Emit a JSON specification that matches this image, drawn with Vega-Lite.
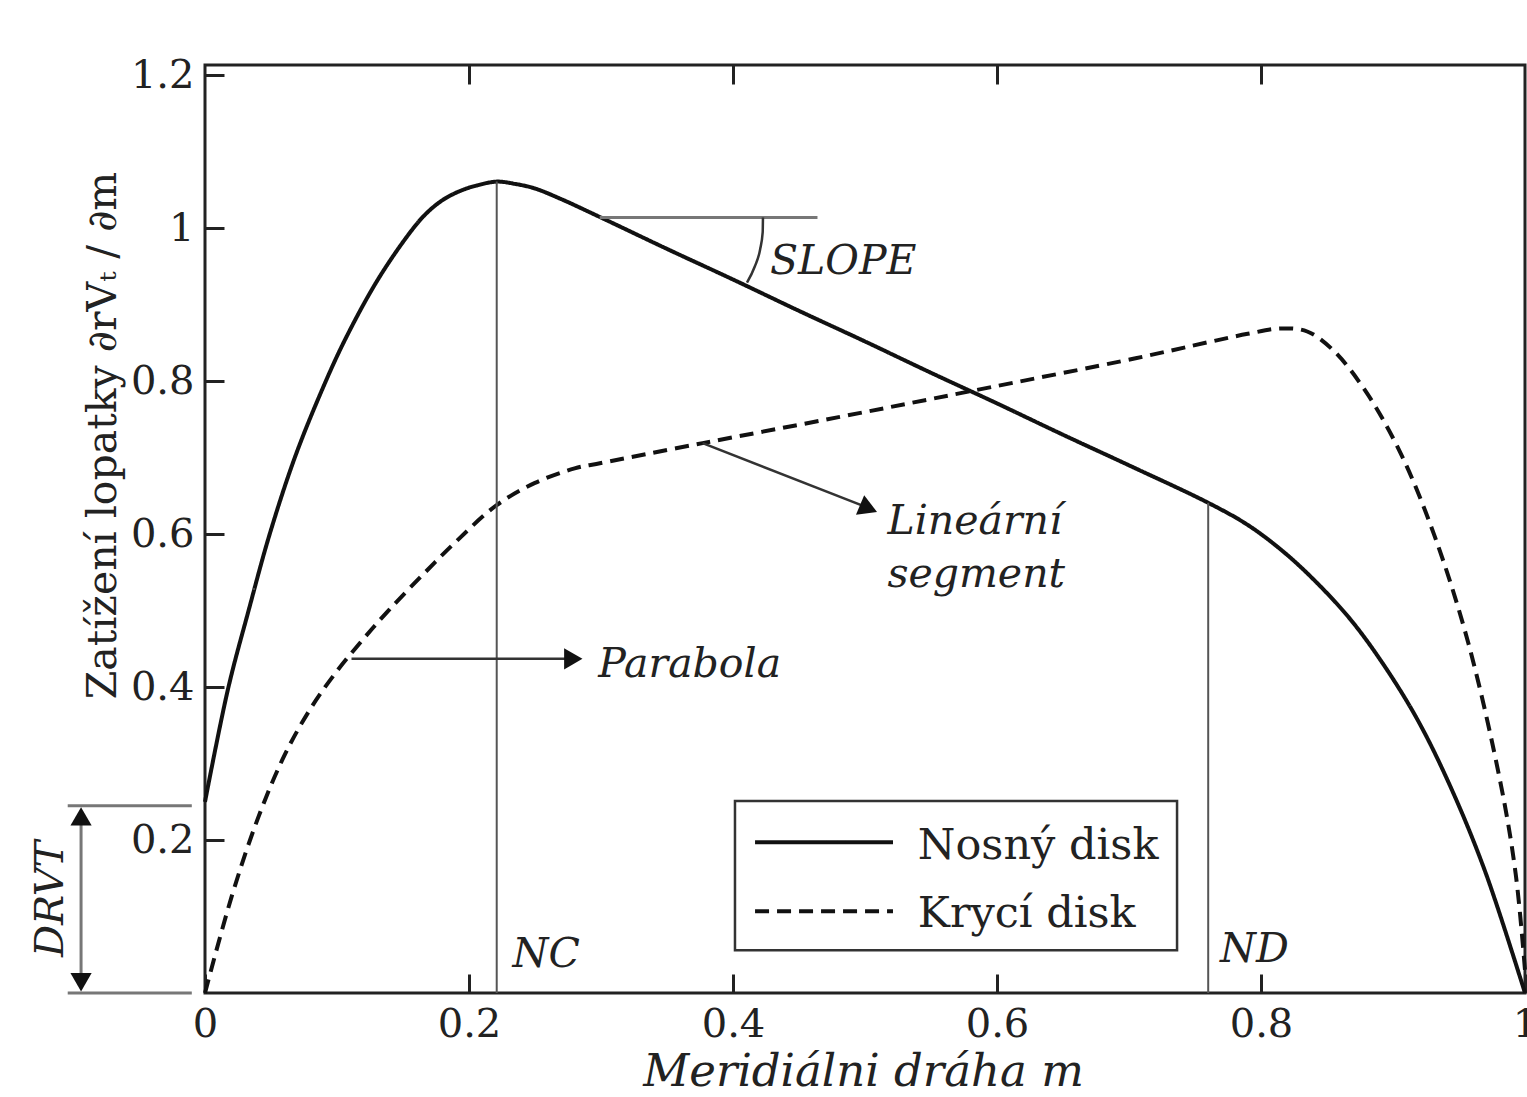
{
  "$schema": "https://vega.github.io/schema/vega-lite/v6.json",
  "width": 1320,
  "height": 928,
  "autosize": {"type": "none"},
  "padding": {"left": 205, "top": 65, "right": 2, "bottom": 104},
  "background": "white",
  "datasets": {
    "curves": [
      {"disk": "Nosný disk", "m": 0.0, "v": 0.25},
      {"disk": "Nosný disk", "m": 0.0175, "v": 0.398},
      {"disk": "Nosný disk", "m": 0.033, "v": 0.5},
      {"disk": "Nosný disk", "m": 0.049, "v": 0.6},
      {"disk": "Nosný disk", "m": 0.068, "v": 0.7},
      {"disk": "Nosný disk", "m": 0.088, "v": 0.786},
      {"disk": "Nosný disk", "m": 0.106, "v": 0.854},
      {"disk": "Nosný disk", "m": 0.131, "v": 0.933},
      {"disk": "Nosný disk", "m": 0.156, "v": 0.996},
      {"disk": "Nosný disk", "m": 0.168, "v": 1.02},
      {"disk": "Nosný disk", "m": 0.181, "v": 1.038},
      {"disk": "Nosný disk", "m": 0.195, "v": 1.05},
      {"disk": "Nosný disk", "m": 0.206, "v": 1.056},
      {"disk": "Nosný disk", "m": 0.221, "v": 1.061},
      {"disk": "Nosný disk", "m": 0.235, "v": 1.058},
      {"disk": "Nosný disk", "m": 0.25, "v": 1.052},
      {"disk": "Nosný disk", "m": 0.27, "v": 1.038},
      {"disk": "Nosný disk", "m": 0.3, "v": 1.014},
      {"disk": "Nosný disk", "m": 0.35, "v": 0.973},
      {"disk": "Nosný disk", "m": 0.4, "v": 0.933},
      {"disk": "Nosný disk", "m": 0.45, "v": 0.892},
      {"disk": "Nosný disk", "m": 0.5, "v": 0.852},
      {"disk": "Nosný disk", "m": 0.55, "v": 0.811},
      {"disk": "Nosný disk", "m": 0.6, "v": 0.771},
      {"disk": "Nosný disk", "m": 0.65, "v": 0.73},
      {"disk": "Nosný disk", "m": 0.7, "v": 0.69},
      {"disk": "Nosný disk", "m": 0.76, "v": 0.641},
      {"disk": "Nosný disk", "m": 0.79, "v": 0.612},
      {"disk": "Nosný disk", "m": 0.817, "v": 0.577},
      {"disk": "Nosný disk", "m": 0.842, "v": 0.537},
      {"disk": "Nosný disk", "m": 0.868, "v": 0.488},
      {"disk": "Nosný disk", "m": 0.893, "v": 0.429},
      {"disk": "Nosný disk", "m": 0.919, "v": 0.356},
      {"disk": "Nosný disk", "m": 0.944, "v": 0.268},
      {"disk": "Nosný disk", "m": 0.97, "v": 0.158},
      {"disk": "Nosný disk", "m": 1.0, "v": 0.0},
      {"disk": "Krycí disk", "m": 0.0, "v": 0.0},
      {"disk": "Krycí disk", "m": 0.02, "v": 0.125},
      {"disk": "Krycí disk", "m": 0.04, "v": 0.228},
      {"disk": "Krycí disk", "m": 0.06, "v": 0.31},
      {"disk": "Krycí disk", "m": 0.08, "v": 0.372},
      {"disk": "Krycí disk", "m": 0.1, "v": 0.421},
      {"disk": "Krycí disk", "m": 0.12, "v": 0.463},
      {"disk": "Krycí disk", "m": 0.14, "v": 0.502},
      {"disk": "Krycí disk", "m": 0.165, "v": 0.547},
      {"disk": "Krycí disk", "m": 0.19, "v": 0.59},
      {"disk": "Krycí disk", "m": 0.221, "v": 0.638},
      {"disk": "Krycí disk", "m": 0.25, "v": 0.667},
      {"disk": "Krycí disk", "m": 0.28, "v": 0.686},
      {"disk": "Krycí disk", "m": 0.3, "v": 0.693},
      {"disk": "Krycí disk", "m": 0.377, "v": 0.719},
      {"disk": "Krycí disk", "m": 0.48, "v": 0.753},
      {"disk": "Krycí disk", "m": 0.58, "v": 0.787},
      {"disk": "Krycí disk", "m": 0.705, "v": 0.83},
      {"disk": "Krycí disk", "m": 0.76, "v": 0.851},
      {"disk": "Krycí disk", "m": 0.79, "v": 0.862},
      {"disk": "Krycí disk", "m": 0.815, "v": 0.869},
      {"disk": "Krycí disk", "m": 0.835, "v": 0.865},
      {"disk": "Krycí disk", "m": 0.855, "v": 0.84},
      {"disk": "Krycí disk", "m": 0.88, "v": 0.785},
      {"disk": "Krycí disk", "m": 0.906, "v": 0.705},
      {"disk": "Krycí disk", "m": 0.931, "v": 0.6},
      {"disk": "Krycí disk", "m": 0.957, "v": 0.458},
      {"disk": "Krycí disk", "m": 0.982, "v": 0.27},
      {"disk": "Krycí disk", "m": 0.993, "v": 0.155},
      {"disk": "Krycí disk", "m": 1.0, "v": 0.03}
    ],
    "markers": [
      {"name": "NC", "m": 0.221, "v0": 0.0, "v1": 1.061},
      {"name": "ND", "m": 0.76, "v0": 0.0, "v1": 0.641}
    ],
    "shafts": [
      {"name": "Parabola", "m0": 0.111, "v0": 0.437, "m1": 0.28, "v1": 0.437},
      {"name": "Lineární segment", "m0": 0.377, "v0": 0.719, "m1": 0.503, "v1": 0.634}
    ],
    "refs": [
      {"name": "SLOPE", "m0": 0.299, "v0": 1.014, "m1": 0.464, "v1": 1.014},
      {"name": "DRVT top", "m0": -0.104, "v0": 0.245, "m1": -0.01, "v1": 0.245},
      {"name": "DRVT bottom", "m0": -0.104, "v0": 0.0, "m1": -0.01, "v1": 0.0},
      {"name": "DRVT span", "m0": -0.0939, "v0": 0.012, "m1": -0.0939, "v1": 0.233}
    ],
    "slopeArc": [
      {"m": 0.4227, "v": 1.014},
      {"m": 0.4225, "v": 0.995},
      {"m": 0.4205, "v": 0.972},
      {"m": 0.4165, "v": 0.95},
      {"m": 0.4106, "v": 0.929}
    ],
    "notes": [
      {"label": "SLOPE", "m": 0.428, "v": 0.94},
      {"label": "Lineární", "m": 0.517, "v": 0.6},
      {"label": "segment", "m": 0.517, "v": 0.531},
      {"label": "Parabola", "m": 0.298, "v": 0.413},
      {"label": "NC", "m": 0.233, "v": 0.034},
      {"label": "ND", "m": 0.769, "v": 0.04}
    ],
    "legendBox": [
      {"m0": 0.4015, "m1": 0.7364, "v0": 0.056, "v1": 0.251}
    ],
    "legendLines": [
      {"disk": "Nosný disk", "m": 0.4167, "v": 0.197},
      {"disk": "Nosný disk", "m": 0.5212, "v": 0.197},
      {"disk": "Krycí disk", "m": 0.4167, "v": 0.107},
      {"disk": "Krycí disk", "m": 0.5212, "v": 0.107}
    ],
    "legendLabels": [
      {"disk": "Nosný disk", "m": 0.54, "v": 0.175},
      {"disk": "Krycí disk", "m": 0.54, "v": 0.086}
    ]
  },
  "config": {
    "view": {"stroke": "#222", "strokeWidth": 3},
    "font": "DejaVu Serif",
    "axis": {
      "labelFont": "DejaVu Serif",
      "labelFontSize": 40,
      "labelColor": "#222",
      "tickColor": "#222",
      "tickWidth": 3,
      "grid": false,
      "domain": false,
      "labelFlush": false,
      "titleFont": "DejaVu Serif",
      "titleFontWeight": "normal",
      "titleColor": "#222"
    }
  },
  "resolve": {"axis": {"x": "independent", "y": "independent"}},
  "layer": [
    {
      "data": {"name": "curves"},
      "mark": {"type": "line", "interpolate": "catmull-rom", "color": "#111", "strokeWidth": 4},
      "encoding": {
        "x": {
          "field": "m", "type": "quantitative",
          "scale": {"domain": [0, 1], "nice": false, "zero": false},
          "axis": {
            "orient": "bottom",
            "values": [0, 0.2, 0.4, 0.6, 0.8, 1],
            "format": "~g",
            "tickSize": -19,
            "labelPadding": 30,
            "title": "Meridiálni dráha m",
            "titleFontStyle": "italic",
            "titleFontSize": 45,
            "titleX": 658,
            "titleY": 92,
            "titleAlign": "center",
            "titleBaseline": "alphabetic"
          }
        },
        "y": {
          "field": "v", "type": "quantitative",
          "scale": {"domain": [0, 1.2135], "nice": false, "zero": false},
          "axis": {
            "orient": "left",
            "values": [0.2, 0.4, 0.6, 0.8, 1, 1.2],
            "format": "~g",
            "tickSize": -19,
            "labelPadding": 30,
            "title": "Zatížení lopatky ∂rVₜ / ∂m",
            "titleFontSize": 41,
            "titleAngle": 270,
            "titleX": -90,
            "titleY": 370,
            "titleAlign": "center",
            "titleBaseline": "alphabetic"
          }
        },
        "strokeDash": {
          "field": "disk", "type": "nominal",
          "scale": {"domain": ["Nosný disk", "Krycí disk"], "range": [[1, 0], [14, 8]]},
          "legend": null
        }
      }
    },
    {
      "data": {"name": "markers"},
      "mark": {"type": "rule", "color": "#555", "strokeWidth": 2},
      "encoding": {
        "x": {
          "field": "m", "type": "quantitative",
          "axis": {
            "orient": "top",
            "values": [0.2, 0.4, 0.6, 0.8],
            "labels": false,
            "tickSize": -19,
            "title": null
          }
        },
        "y": {"field": "v0", "type": "quantitative", "axis": null},
        "y2": {"field": "v1"}
      }
    },
    {
      "data": {"name": "refs"},
      "mark": {"type": "rule", "color": "#777", "strokeWidth": 3},
      "encoding": {
        "x": {"field": "m0", "type": "quantitative", "axis": null},
        "x2": {"field": "m1"},
        "y": {"field": "v0", "type": "quantitative", "axis": null},
        "y2": {"field": "v1"}
      }
    },
    {
      "data": {"name": "shafts"},
      "mark": {"type": "rule", "color": "#333", "strokeWidth": 2.5},
      "encoding": {
        "x": {"field": "m0", "type": "quantitative", "axis": null},
        "x2": {"field": "m1"},
        "y": {"field": "v0", "type": "quantitative", "axis": null},
        "y2": {"field": "v1"}
      }
    },
    {
      "data": {"name": "slopeArc"},
      "mark": {"type": "line", "interpolate": "monotone", "color": "#333", "strokeWidth": 2.5},
      "encoding": {
        "x": {"field": "m", "type": "quantitative", "axis": null},
        "y": {"field": "v", "type": "quantitative", "axis": null},
        "order": {"field": "v", "sort": "descending"}
      }
    },
    {
      "data": {"values": [{"m": 0.279, "v": 0.437}]},
      "mark": {"type": "point", "shape": "triangle-right", "size": 450, "filled": true, "color": "#111", "opacity": 1},
      "encoding": {
        "x": {"field": "m", "type": "quantitative", "axis": null},
        "y": {"field": "v", "type": "quantitative", "axis": null}
      }
    },
    {
      "data": {"values": [{"m": 0.5027, "v": 0.6336}]},
      "mark": {"type": "point", "shape": "triangle-right", "size": 450, "angle": 22.7, "filled": true, "color": "#111", "opacity": 1},
      "encoding": {
        "x": {"field": "m", "type": "quantitative", "axis": null},
        "y": {"field": "v", "type": "quantitative", "axis": null}
      }
    },
    {
      "data": {"values": [{"m": -0.0939, "v": 0.231}]},
      "mark": {"type": "point", "shape": "triangle-up", "size": 450, "filled": true, "color": "#111", "opacity": 1},
      "encoding": {
        "x": {"field": "m", "type": "quantitative", "axis": null},
        "y": {"field": "v", "type": "quantitative", "axis": null}
      }
    },
    {
      "data": {"values": [{"m": -0.0939, "v": 0.014}]},
      "mark": {"type": "point", "shape": "triangle-down", "size": 450, "filled": true, "color": "#111", "opacity": 1},
      "encoding": {
        "x": {"field": "m", "type": "quantitative", "axis": null},
        "y": {"field": "v", "type": "quantitative", "axis": null}
      }
    },
    {
      "data": {"name": "notes"},
      "mark": {"type": "text", "font": "DejaVu Serif", "fontStyle": "italic", "fontSize": 41, "align": "left", "baseline": "alphabetic", "color": "#222"},
      "encoding": {
        "x": {"field": "m", "type": "quantitative", "axis": null},
        "y": {"field": "v", "type": "quantitative", "axis": null},
        "text": {"field": "label"}
      }
    },
    {
      "data": {"values": [{"label": "DRVT", "m": -0.1076, "v": 0.123}]},
      "mark": {"type": "text", "font": "DejaVu Serif", "fontStyle": "italic", "fontSize": 40, "angle": 270, "align": "center", "baseline": "alphabetic", "color": "#222"},
      "encoding": {
        "x": {"field": "m", "type": "quantitative", "axis": null},
        "y": {"field": "v", "type": "quantitative", "axis": null},
        "text": {"field": "label"}
      }
    },
    {
      "data": {"name": "legendBox"},
      "mark": {"type": "rect", "fill": "white", "stroke": "#333", "strokeWidth": 2.5},
      "encoding": {
        "x": {"field": "m0", "type": "quantitative", "axis": null},
        "x2": {"field": "m1"},
        "y": {"field": "v0", "type": "quantitative", "axis": null},
        "y2": {"field": "v1"}
      }
    },
    {
      "data": {"name": "legendLines"},
      "mark": {"type": "line", "color": "#111", "strokeWidth": 4},
      "encoding": {
        "x": {"field": "m", "type": "quantitative", "axis": null},
        "y": {"field": "v", "type": "quantitative", "axis": null},
        "strokeDash": {"field": "disk", "type": "nominal", "legend": null}
      }
    },
    {
      "data": {"name": "legendLabels"},
      "mark": {"type": "text", "font": "DejaVu Serif", "fontSize": 43, "align": "left", "baseline": "alphabetic", "color": "#222"},
      "encoding": {
        "x": {"field": "m", "type": "quantitative", "axis": null},
        "y": {"field": "v", "type": "quantitative", "axis": null},
        "text": {"field": "disk"}
      }
    }
  ]
}
